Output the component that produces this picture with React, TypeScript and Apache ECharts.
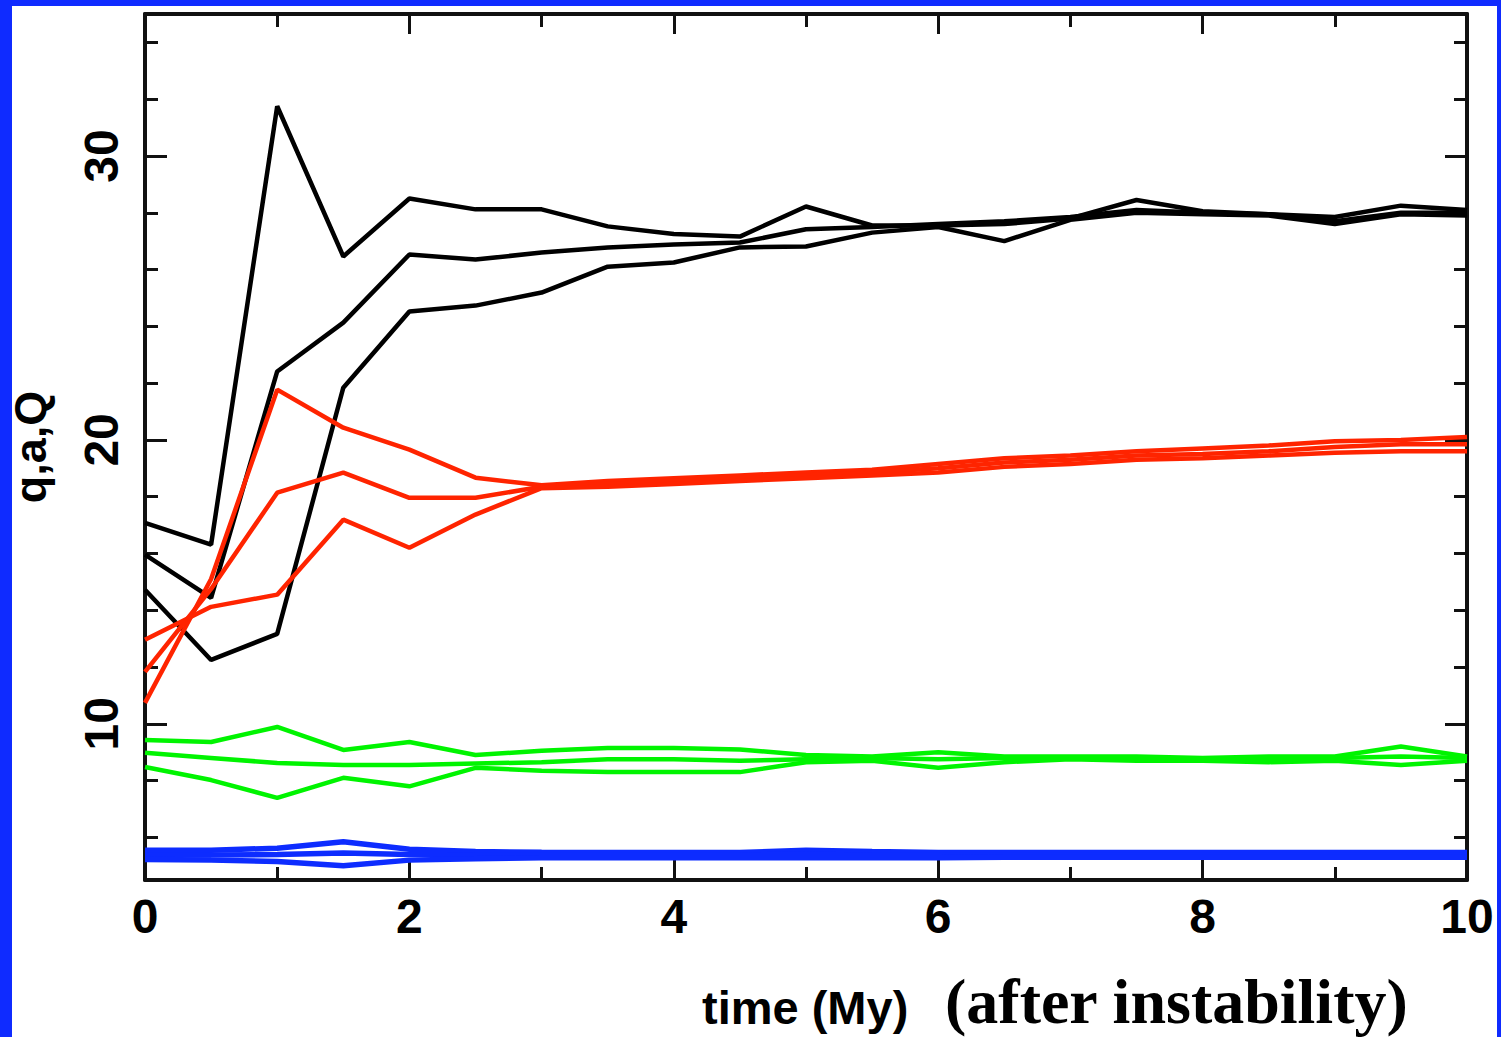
import React, { useEffect, useRef } from 'react';
import * as echarts from 'echarts';

// time (My)
const TIME = [0, 0.5, 1, 1.5, 2, 2.5, 3, 3.5, 4, 4.5, 5, 5.5, 6, 6.5, 7, 7.5, 8, 8.5, 9, 9.5, 10];

// Q (black)
const BLACK_A = [17.08, 16.31, 31.75, 26.46, 28.5, 28.12, 28.12, 27.52, 27.25, 27.16, 28.22, 27.55, 27.55, 27.6, 27.8, 28.45, 28.05, 27.95, 27.85, 28.25, 28.1];
const BLACK_B = [15.96, 14.44, 22.41, 24.13, 26.53, 26.35, 26.6, 26.78, 26.88, 26.95, 27.42, 27.5, 27.6, 27.7, 27.85, 28.1, 28.0, 27.95, 27.7, 28.0, 28.0];
const BLACK_C = [14.72, 12.25, 13.17, 21.84, 24.52, 24.73, 25.19, 26.1, 26.25, 26.78, 26.81, 27.3, 27.5, 27.0, 27.75, 28.0, 27.95, 27.9, 27.6, 27.95, 27.9];

// a (red)
const RED_A = [10.74, 15.1, 21.77, 20.43, 19.66, 18.67, 18.4, 18.55, 18.65, 18.75, 18.85, 18.95, 19.15, 19.35, 19.45, 19.6, 19.7, 19.8, 19.95, 20.0, 20.1];
const RED_B = [11.83, 14.75, 18.14, 18.85, 17.96, 17.96, 18.35, 18.45, 18.55, 18.65, 18.75, 18.85, 19.0, 19.2, 19.3, 19.45, 19.5, 19.6, 19.75, 19.85, 19.85];
const RED_C = [12.96, 14.12, 14.55, 17.19, 16.2, 17.37, 18.3, 18.35, 18.45, 18.55, 18.65, 18.75, 18.85, 19.05, 19.15, 19.3, 19.35, 19.45, 19.55, 19.6, 19.6];

// q (green)
const GREEN_A = [9.43, 9.36, 9.89, 9.08, 9.36, 8.9, 9.05, 9.15, 9.15, 9.1, 8.9, 8.85, 9.0, 8.85, 8.85, 8.85, 8.8, 8.85, 8.85, 9.2, 8.85];
const GREEN_B = [8.98, 8.8, 8.62, 8.55, 8.55, 8.6, 8.65, 8.75, 8.75, 8.7, 8.75, 8.8, 8.75, 8.8, 8.8, 8.8, 8.75, 8.75, 8.8, 8.85, 8.8];
const GREEN_C = [8.48, 8.02, 7.39, 8.1, 7.8, 8.45, 8.35, 8.3, 8.3, 8.3, 8.65, 8.7, 8.45, 8.65, 8.75, 8.7, 8.7, 8.65, 8.7, 8.55, 8.7];

// blue
const BLUE_A = [5.55, 5.55, 5.62, 5.85, 5.58, 5.5, 5.48, 5.47, 5.47, 5.47, 5.55, 5.5, 5.47, 5.47, 5.47, 5.47, 5.47, 5.47, 5.47, 5.47, 5.47];
const BLUE_B = [5.38, 5.38, 5.4, 5.45, 5.4, 5.38, 5.38, 5.38, 5.38, 5.38, 5.4, 5.38, 5.38, 5.38, 5.38, 5.38, 5.38, 5.38, 5.38, 5.38, 5.38];
const BLUE_C = [5.22, 5.2, 5.15, 5.0, 5.2, 5.25, 5.28, 5.28, 5.28, 5.28, 5.28, 5.28, 5.28, 5.3, 5.3, 5.3, 5.3, 5.3, 5.3, 5.3, 5.3];

const Y_MAJOR = [10, 20, 30];
const Y_MINOR = [6, 8, 12, 14, 16, 18, 22, 24, 26, 28, 32, 34];

const Y_NAME = 'q,a,Q';
const X_NAME = 'time (My)';
const NOTE = '(after instability)';

const AXIS_COLOR = '#111';
const SANS = '"Liberation Sans", Arial, sans-serif';

export default function App() {
  const ref = useRef<HTMLDivElement>(null);
  useEffect(() => {
    if (!ref.current) return;
    const chart = echarts.init(ref.current, undefined, { renderer: 'svg' });
    const mk = (arr: number[], color: string, width: number) => ({
      type: 'line',
      data: TIME.map((t, i) => [t, arr[i]]),
      showSymbol: false,
      symbol: 'none',
      xAxisIndex: 0,
      yAxisIndex: 0,
      lineStyle: { color, width },
      itemStyle: { color },
      silent: true,
    });
    const lineStyle = { color: AXIS_COLOR, width: 3 };
    const xBase = (position: string, labels: boolean) => ({
      type: 'value',
      position,
      min: 0,
      max: 10,
      interval: 2,
      axisLine: { show: true, onZero: false, lineStyle: { color: AXIS_COLOR, width: 4 } },
      axisTick: { show: true, inside: true, length: 20, lineStyle },
      minorTick: { show: true, splitNumber: 2, length: 13, lineStyle },
      splitLine: { show: false },
      minorSplitLine: { show: false },
      axisLabel: {
        show: labels,
        margin: 12,
        fontSize: 48,
        fontWeight: 'bold',
        fontFamily: SANS,
        color: '#000',
      },
    });
    const yBase = (position: string, major: boolean, labels: boolean, withLine: boolean) => ({
      type: 'value',
      position,
      min: 4.5,
      max: 35,
      axisLine: { show: withLine, onZero: false, lineStyle: { color: AXIS_COLOR, width: 4 } },
      axisTick: {
        show: true,
        inside: true,
        length: major ? 22 : 13,
        lineStyle,
        customValues: major ? Y_MAJOR : Y_MINOR,
      },
      splitLine: { show: false },
      axisLabel: {
        show: labels,
        customValues: Y_MAJOR,
        rotate: 90,
        margin: 20,
        fontSize: 48,
        fontWeight: 'bold',
        fontFamily: SANS,
        color: '#000',
      },
    });
    const yLeft: any = yBase('left', true, true, true);
    yLeft.name = Y_NAME;
    yLeft.nameLocation = 'middle';
    yLeft.nameRotate = 90;
    yLeft.nameGap = 92;
    yLeft.nameTextStyle = { fontSize: 45, fontWeight: 'bold', fontFamily: SANS, color: '#000' };

    chart.setOption({
      animation: false,
      backgroundColor: '#ffffff',
      grid: { left: 145, right: 34, top: 14, bottom: 157, containLabel: false, outerBoundsMode: 'none' },
      xAxis: [xBase('bottom', true), xBase('top', false)],
      yAxis: [
        yLeft,
        yBase('left', false, false, false),
        yBase('right', true, false, true),
        yBase('right', false, false, false),
      ],
      series: [
        mk(BLACK_A, '#000000', 4.5),
        mk(BLACK_B, '#000000', 4.5),
        mk(BLACK_C, '#000000', 4.5),
        mk(RED_A, '#ff2400', 4.5),
        mk(RED_B, '#ff2400', 4.5),
        mk(RED_C, '#ff2400', 4.5),
        mk(GREEN_A, '#00f400', 4.5),
        mk(GREEN_B, '#00f400', 4.5),
        mk(GREEN_C, '#00f400', 4.5),
        mk(BLUE_A, '#0d2cff', 5.5),
        mk(BLUE_B, '#0d2cff', 5.5),
        mk(BLUE_C, '#0d2cff', 5.5),
      ],
      graphic: [
        { type: 'rect', shape: { x: 0, y: 0, width: 12, height: 1037 }, style: { fill: '#0f2bff' }, silent: true },
        { type: 'rect', shape: { x: 0, y: 0, width: 1501, height: 6 }, style: { fill: '#0f2bff' }, silent: true },
        { type: 'rect', shape: { x: 1497, y: 0, width: 4, height: 1037 }, style: { fill: '#0f2bff' }, silent: true },
        {
          type: 'text',
          x: 702,
          y: 1007,
          silent: true,
          style: {
            text: X_NAME,
            fontSize: 47,
            fontWeight: 'bold',
            fontFamily: SANS,
            fill: '#000',
            align: 'left',
            verticalAlign: 'middle',
          },
        },
        {
          type: 'text',
          x: 945,
          y: 1001,
          silent: true,
          style: {
            text: NOTE,
            fontSize: 64,
            fontWeight: 'bold',
            fontFamily: '"Liberation Serif", "Times New Roman", serif',
            fill: '#000',
            align: 'left',
            verticalAlign: 'middle',
          },
        },
      ],
    });
    return () => chart.dispose();
  }, []);
  return (
    <div
      ref={ref}
      style={{ position: 'fixed', left: 0, top: 0, width: 1501, height: 1037, background: '#fff' }}
    />
  );
}
